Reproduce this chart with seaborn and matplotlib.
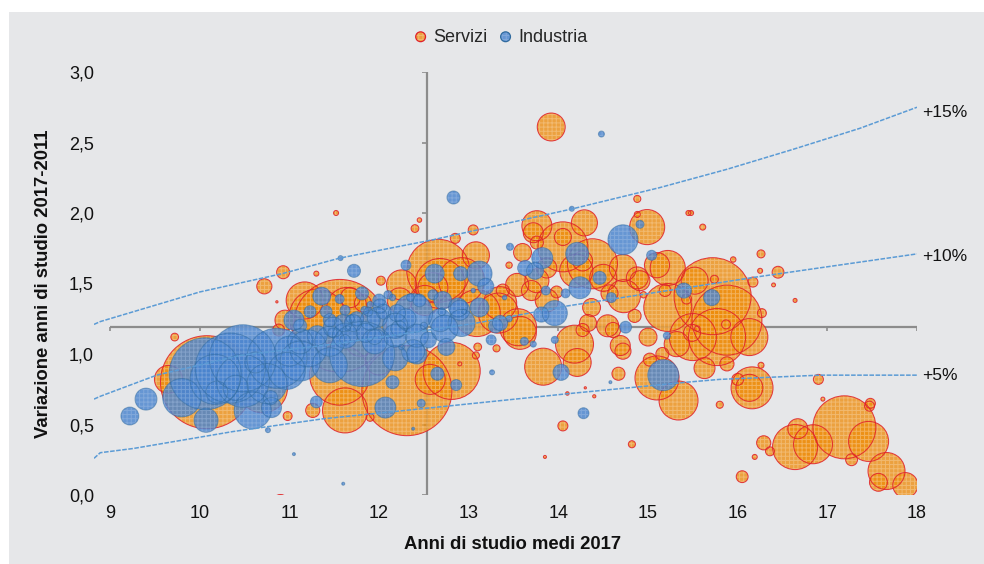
import numpy as np
import pandas as pd
import matplotlib
matplotlib.use("Agg")
import matplotlib.pyplot as plt
import seaborn as sns
from matplotlib.colors import to_rgb
from matplotlib.legend_handler import HandlerTuple
from matplotlib.patches import Rectangle

# valori (peso = dimensione della bolla, scala arbitraria)
servizi_x = [12.31, 10.08, 11.56, 15.72, 15.88, 12.66, 11.31, 11.56, 17.19, 15.77, 12.81, 12.68, 14.05, 14.38, 15.22,
             15.50, 16.64, 12.92, 11.62, 16.16, 15.10, 11.64, 17.46, 13.33, 16.84, 15.34, 13.55, 14.18, 13.83, 16.13,
             17.66, 14.99, 13.57, 14.73, 15.22, 11.17, 13.76, 12.25, 12.60, 12.57, 13.92, 14.50, 14.29, 14.21, 13.08,
             9.65, 17.87, 16.13, 13.87, 15.10, 13.76, 13.54, 14.55, 15.63, 14.88, 13.87, 14.69, 10.95, 16.67, 13.60,
             14.27, 13.70, 15.00, 14.37, 17.57, 14.72, 14.33, 11.68, 11.82, 10.72, 14.67, 14.85, 15.16, 15.02, 16.29,
             15.88, 10.93, 11.26, 16.45, 10.88, 13.98, 13.38, 17.27, 16.05, 16.00, 14.05, 13.05, 12.85, 17.48, 17.47,
             16.90, 16.17, 12.02, 10.98, 16.36, 11.90, 16.27, 13.31, 13.08, 9.72, 12.40, 14.82, 14.88, 14.88, 15.48,
             15.61, 16.26, 15.80, 16.26, 16.25, 11.30, 11.52, 15.45, 16.19, 12.90, 16.95, 16.64, 14.40, 13.85, 10.90,
             10.86, 14.10, 14.30, 13.10, 13.45, 12.45, 15.55, 14.95, 15.95, 16.40,
             10.70, 12.00, 11.79, 12.51, 12.23, 13.09, 13.35, 14.20, 14.72, 14.91, 14.57, 13.72, 13.76, 14.05,
             15.19, 15.43, 15.74, 15.52, 15.87, 15.49, 15.32, 14.27, 14.61]
servizi_y = [0.74, 0.80, 1.20, 1.41, 1.24, 1.59, 1.26, 0.85, 0.48, 1.12, 0.88, 1.50, 1.76, 1.64, 1.33,
             1.12, 0.34, 1.52, 0.60, 0.76, 0.83, 1.33, 0.38, 1.29, 0.36, 0.67, 1.19, 1.07, 0.91, 1.12,
             0.17, 1.90, 1.15, 1.41, 1.61, 1.38, 1.91, 1.49, 1.47, 0.82, 2.61, 1.54, 1.93, 0.94, 1.70,
             0.82, 0.07, 0.76, 1.38, 1.63, 1.52, 1.49, 1.20, 0.90, 1.54, 1.61, 1.06, 1.24, 0.47, 1.72,
             1.66, 1.45, 1.12, 1.33, 0.09, 1.02, 1.22, 1.40, 1.36, 1.48, 0.86, 1.27, 1.00, 0.96, 0.37,
             0.93, 1.58, 0.60, 1.58, 1.17, 1.44, 1.45, 0.25, 0.13, 0.82, 0.49, 1.88, 1.82, 0.65, 0.63,
             0.82, 1.51, 1.52, 0.56, 0.31, 0.55, 1.29, 1.04, 0.99, 1.12, 1.89, 0.36, 2.10, 1.99, 2.00,
             1.90, 1.71, 0.64, 0.92, 1.59, 1.57, 2.00, 2.00, 0.27, 0.93, 0.68, 1.38, 0.70, 0.27, -0.06,
             1.37, 0.72, 0.76, 1.05, 1.63, 1.95, 1.18, 1.42, 1.67, 1.49,
             0.76, 0.95, 1.09, 1.38, 1.38, 1.29, 1.36, 1.59, 1.61, 1.52, 1.43, 1.86, 1.79, 1.83,
             1.45, 1.39, 1.53, 1.52, 1.21, 1.15, 1.07, 1.17, 1.17]
servizi_peso = [81, 86.5, 86, 59.3, 49, 39.7, 32, 36, 39.7, 32.5, 32.5, 25, 25, 25, 23,
                22.1, 20.3, 21.2, 20.3, 17.6, 19.4, 16, 16, 16, 15.2, 15.2, 13.7, 14.4, 13.7, 13.7,
                13.7, 12.3, 10.9, 10.9, 12.3, 13.7, 9, 9, 9, 9, 7.8, 7.3, 6.8, 7.8, 7.3,
                7.8, 6.3, 7.3, 5.3, 6.3, 5.8, 5.3, 4.8, 4.4, 4.8, 4, 4, 4, 4, 3.2,
                4, 4, 3.2, 3.2, 3.2, 2.6, 2.9, 4, 2.9, 2.3, 1.7, 1.7, 1.7, 1.7, 2,
                2, 1.7, 2, 1.4, 1.4, 1.4, 1.7, 1.4, 1.4, 1.4, 1, 1, 1, 1, 1,
                1, 1, 0.8, 0.8, 0.8, 0.6, 0.8, 0.5, 0.5, 0.6, 0.6, 0.5, 0.5, 0.36, 0.25,
                0.36, 0.64, 0.5, 0.36, 0.25, 0.25, 0.25, 0.25, 0.25, 0.16, 0.16, 0.16, 0.1, 0.09, 3.2,
                0.05, 0.12, 0.05, 0.6, 0.4, 0.2, 0.3, 0.4, 0.3, 0.15,
                25, 7.8, 9, 9, 6.3, 22, 11, 11, 7.3, 4, 2.9, 4, 1.7, 2.9,
                1.4, 1, 0.64, 7.3, 0.8, 2.9, 6.3, 1.7, 2.3]

industria_x = [11.81, 10.34, 10.06, 10.48, 10.86, 11.21, 9.80, 10.59, 12.38, 10.40, 15.17, 14.72, 11.05, 12.18, 12.92,
               12.73, 13.12, 13.96, 10.19, 14.21, 10.07, 9.40, 12.42, 10.62, 12.07, 14.24, 13.82, 10.80, 12.62, 12.30,
               13.12, 12.88, 9.22, 13.74, 11.36, 13.19, 14.03, 13.63, 15.71, 15.40, 13.35, 13.81, 11.23, 11.41, 12.91,
               11.60, 11.85, 12.05, 12.55, 12.75, 13.30, 10.79, 12.15, 11.81, 12.65, 12.83, 11.72, 14.46, 14.75, 11.95,
               12.22, 11.75, 12.00, 12.45, 12.60, 11.30, 12.86, 14.28, 13.25, 15.04, 14.59, 14.91, 12.30, 13.86, 14.08,
               13.62, 15.21, 13.46, 13.96, 13.72, 11.57, 11.48, 11.62, 11.88, 12.10, 12.35, 12.50, 12.70, 13.45, 12.47,
               10.76, 13.26, 14.48, 14.15, 13.05, 12.95, 11.90, 12.25, 12.15, 11.65, 14.58, 11.05, 11.60, 12.38, 13.40,
               10.48, 10.97, 10.75, 10.17, 11.12, 11.45, 11.45, 11.12, 11.62, 11.31, 11.49, 11.71, 11.90, 11.98, 12.20,
               12.01, 12.38, 12.42, 12.18, 12.68, 12.71, 12.90, 12.18, 11.95, 11.12, 11.62, 11.56, 11.45, 11.68, 11.84,
               11.00]
industria_y = [1.00, 0.90, 0.86, 0.97, 0.97, 1.04, 0.69, 0.60, 1.29, 0.76, 0.85, 1.81, 1.24, 0.97, 1.22,
               1.18, 1.57, 1.29, 0.73, 1.71, 0.53, 0.68, 1.00, 0.94, 0.62, 1.47, 1.68, 0.62, 1.57, 1.25,
               1.33, 1.33, 0.56, 1.59, 1.41, 1.48, 0.87, 1.61, 1.40, 1.45, 1.22, 1.28, 1.30, 1.30, 1.57,
               1.22, 1.15, 1.30, 1.10, 1.05, 1.20, 0.69, 0.80, 1.43, 0.86, 2.11, 1.59, 1.54, 1.19, 1.12,
               1.18, 1.25, 1.38, 1.38, 1.42, 0.66, 0.78, 0.58, 1.10, 1.70, 1.40, 1.92, 1.63, 1.45, 1.43,
               1.09, 1.13, 1.76, 1.10, 1.07, 1.68, 1.15, 1.10, 1.30, 1.42, 1.40, 1.20, 1.30, 1.25, 0.65,
               0.46, 0.87, 2.56, 2.03, 1.45, 1.30, 1.35, 1.05, 1.40, 1.18, 0.80, 0.29, 0.08, 0.47, 1.40,
               0.81, 0.88, 0.79, 0.82, 0.95, 0.92, 1.09, 1.09, 1.13, 1.13, 1.19, 1.22, 1.24, 1.26, 1.29,
               1.34, 1.02, 1.13, 1.13, 1.24, 1.38, 1.31, 1.20, 1.09, 1.20, 1.31, 1.39, 1.24, 1.25, 1.31,
               1.02]
industria_peso = [42.3, 49, 51.8, 44.9, 36, 13.7, 14.7, 13.7, 15, 6.3, 9.6, 9, 4, 6.3, 7.3,
                  7.3, 6.3, 6.3, 4.8, 5.3, 5.8, 4.8, 4, 4.4, 4.4, 4.8, 4.4, 4, 3.6, 4,
                  3.6, 3.6, 3.2, 2.9, 3.2, 2.6, 2.6, 2.3, 2.6, 2.3, 2.3, 2.3, 1.4, 1.4, 2,
                  3, 3.6, 2.2, 2.5, 2.9, 2, 2, 1.7, 1.7, 1.7, 1.7, 1.7, 1.7, 1.4, 2.2,
                  2.5, 2, 1.6, 1.6, 1, 1.4, 1.2, 1.2, 1, 1, 1, 0.64, 1, 0.8, 0.8,
                  0.64, 0.5, 0.5, 0.5, 0.36, 0.25, 0.9, 1.1, 0.8, 0.7, 0.6, 0.5, 0.6, 0.4, 0.64,
                  0.25, 0.25, 0.36, 0.25, 0.2, 0.25, 0.4, 0.3, 0.4, 0.3, 0.09, 0.09, 0.09, 0.09, 0.2,
                  28, 13.7, 16, 25, 16, 12.3, 9, 6.3, 6.3, 4, 4, 2.9, 4, 4, 2.9,
                  2, 5.3, 5.3, 5.3, 5.3, 3.2, 4, 6.3, 6.3, 1.7, 1, 0.8, 1.7, 0.64, 0.64,
                  9]

# curve di crescita
curve_x_15 = [8.82, 8.89, 10.00, 10.92, 11.56, 12.60, 14.16, 15.13, 15.88, 16.61, 17.36, 18.00]
curve_y_15 = [1.21, 1.23, 1.44, 1.57, 1.68, 1.81, 2.03, 2.18, 2.31, 2.45, 2.60, 2.75]
curve_x_10 = [8.82, 8.89, 9.52, 10.45, 11.49, 13.09, 14.09, 15.43, 16.25, 18.00]
curve_y_10 = [0.68, 0.70, 0.85, 0.99, 1.07, 1.22, 1.34, 1.47, 1.55, 1.71]
curve_x_5 = [8.82, 8.89, 9.26, 10.37, 11.37, 12.60, 14.13, 15.43, 15.80, 16.92, 18.00]
curve_y_5 = [0.26, 0.30, 0.33, 0.45, 0.54, 0.62, 0.72, 0.80, 0.82, 0.85, 0.85]
etichette_curve = ["+15%", "+10%", "+5%"]

x_ticks = list(range(9, 19))
y_ticks = [0.0, 0.5, 1.0, 1.5, 2.0, 2.5, 3.0]
y_labels = ["0,0", "0,5", "1,0", "1,5", "2,0", "2,5", "3,0"]

servizi = pd.DataFrame({"anni": servizi_x, "var": servizi_y, "peso": servizi_peso}).sort_values("peso", ascending=False)
industria = pd.DataFrame({"anni": industria_x, "var": industria_y, "peso": industria_peso}).sort_values("peso", ascending=False)

sns.set_style("white")
plt.rcParams["font.family"] = ["Liberation Sans", "DejaVu Sans"]
plt.rcParams["hatch.linewidth"] = 0.7

W, H = 984, 564
fig = plt.figure(figsize=(W / 100, H / 100), dpi=100, facecolor="white")
fig.patches.append(Rectangle((9 / W, 0), (W - 9) / W, (H - 12) / H, transform=fig.transFigure,
                             facecolor="#E6E7E9", edgecolor="none", zorder=-5))
ax = fig.add_axes([94 / W, (H - 495) / H, (917 - 94) / W, (495 - 72) / H])
ax.patch.set_visible(False)
for s in ax.spines.values():
    s.set_visible(False)
ax.set_xlim(8.82, 18)
ax.set_ylim(0, 3)

# assi che si incrociano
asse = "#8C8C8C"
ax.plot([9, 18], [1.19, 1.19], color=asse, lw=1.6, zorder=1, solid_capstyle="butt")
ax.plot([12.53, 12.53], [0, 3], color=asse, lw=1.6, zorder=1, solid_capstyle="butt")
ax.vlines(x_ticks, 1.16, 1.19, color=asse, lw=1.2, zorder=1)
ax.hlines(y_ticks, 12.48, 12.53, color=asse, lw=1.2, zorder=1)

# scala bolle: peso -> punti^2
scala = 51.84
size_kw = dict(x="anni", y="var", size="peso", sizes=(0.05 * scala, 100 * scala), size_norm=(0.05, 100), legend=False)


def trama(coll, fill, a_fill, hatch_col):
    # alpha separati per riempimento e trama
    coll.set_alpha(None)
    coll.set_facecolor(to_rgb(fill) + (a_fill,))
    coll.set_edgecolor(hatch_col)


def bolle(df, fill, a_fill, hatch_col, edge, a_edge, z):
    # riempimento con trama, poi solo il bordo: il tratteggio prende il colore del bordo
    sns.scatterplot(data=df, color=fill, edgecolor="none", linewidth=0, hatch="++++", zorder=z, ax=ax, **size_kw)
    trama(ax.collections[-1], fill, a_fill, hatch_col)
    sns.scatterplot(data=df, color=edge, facecolor="none", edgecolor=edge, linewidth=0.75, alpha=a_edge, zorder=z, ax=ax, **size_kw)


bolle(servizi, "#EE8C0A", 0.76, (1, 0.95, 0.88, 0.3), "#E0202A", 0.85, 2)
bolle(industria, "#4A84CF", 0.82, (1, 1, 1, 0.18), "#2F6A9E", 0.5, 3)

# curve tratteggiate
offset_etichette = [-4, -2, 0]
for cx, cy, lab, off in zip([curve_x_15, curve_x_10, curve_x_5], [curve_y_15, curve_y_10, curve_y_5], etichette_curve, offset_etichette):
    sns.lineplot(x=cx, y=cy, color="#5B9BD5", lw=1.1, linestyle=(0, (3, 1)), sort=False, estimator=None, zorder=4, ax=ax)
    ax.annotate(lab, (18, cy[-1]), xytext=(3.5, off), textcoords="offset points", fontsize=12.5, ha="left", va="center",
                color="#111111", annotation_clip=False)

ax.set_xticks(x_ticks)
ax.set_yticks(y_ticks)
ax.set_yticklabels(y_labels)
ax.tick_params(axis="both", length=0, labelsize=13, labelcolor="#111111")
ax.tick_params(axis="x", pad=7)
ax.tick_params(axis="y", pad=0)
ax.set_xlabel("Anni di studio medi 2017", fontsize=13.3, fontweight="bold", color="#111111", labelpad=10, x=0.509)
ax.set_ylabel("Variazione anni di studio 2017-2011", fontsize=13.3, fontweight="bold", color="#111111", labelpad=12)

# legenda con proxy: trama + bordo sovrapposti
s_f = ax.scatter([], [], s=50, color="#EE8C0A", edgecolor="none", linewidth=0, hatch="++++")
trama(s_f, "#EE8C0A", 0.76, (1, 0.95, 0.88, 0.3))
s_e = ax.scatter([], [], s=50, facecolor="none", edgecolor="#E0202A", linewidth=0.9)
i_f = ax.scatter([], [], s=50, color="#4A84CF", edgecolor="none", linewidth=0, hatch="++++")
trama(i_f, "#4A84CF", 0.82, (1, 1, 1, 0.18))
i_e = ax.scatter([], [], s=50, facecolor="none", edgecolor="#2F6A9E", linewidth=0.9)
fig.legend(handles=[(s_f, s_e), (i_f, i_e)], labels=["Servizi", "Industria"], loc="center",
           bbox_to_anchor=(495 / W, (H - 37) / H), ncol=2, frameon=False, fontsize=13, handletextpad=-0.3, columnspacing=0.0,
           handler_map={tuple: HandlerTuple(ndivide=1)})

fig.savefig("out.png", dpi=100)
